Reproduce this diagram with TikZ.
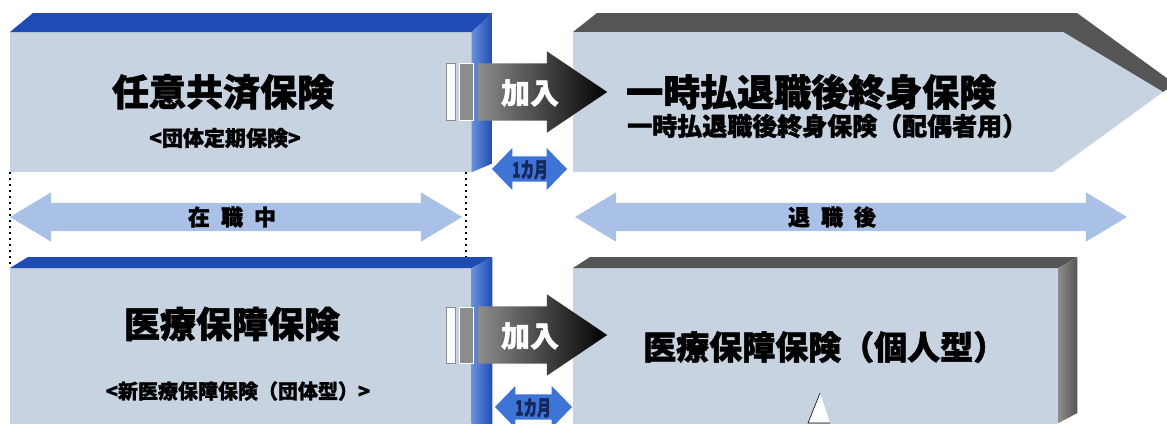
\documentclass[tikz,border=0pt]{standalone}
\usepackage{fontspec}
\newfontfamily\jp{Noto Sans CJK JP}[BoldFeatures={FakeBold=1.5}]
\newfontfamily\jpnarrow{Noto Sans CJK JP}[FakeStretch=0.65, BoldFeatures={FakeBold=1.5}]
\usepackage{tikz}
\usetikzlibrary{calc,shapes.arrows}
\definecolor{facecol}{HTML}{C7D3E1}
\definecolor{bluecol}{HTML}{1E4CB4}
\definecolor{lightbluecol}{HTML}{6A92DC}
\definecolor{graycol}{HTML}{555555}
\definecolor{lightgraycol}{HTML}{8C8C8C}
\definecolor{spancol}{HTML}{A9C1E7}
\definecolor{monthcol}{HTML}{3E74D5}
\definecolor{monthtext}{HTML}{15285C}
\tikzstyle{face} = [rectangle, fill=facecol, inner sep=0pt, anchor=north west]
\tikzstyle{title} = [inner sep=0pt, font=\jp\bfseries\fontsize{37}{40}\selectfont]
\tikzstyle{subtitle} = [inner sep=0pt, font=\jp\bfseries\fontsize{21}{24}\selectfont]
\tikzstyle{span} = [double arrow, fill=spancol, inner xsep=0pt, inner ysep=14pt, double arrow head extend=10.5pt, double arrow tip angle=62]
\tikzstyle{spanlabel} = [inner sep=0pt, font=\jp\bfseries\fontsize{22}{24}\selectfont]
\tikzstyle{joinarrow} = [single arrow, left color=lightgraycol, middle color=black!85, right color=black, inner xsep=0pt, inner ysep=28.5pt, minimum height=129pt, single arrow head extend=12pt, single arrow tip angle=68, anchor=tail]
\tikzstyle{joinlabel} = [inner sep=0pt, text=white, font=\jp\bfseries\fontsize{29}{30}\selectfont]
\tikzstyle{month} = [double arrow, fill=monthcol, inner xsep=0pt, inner ysep=12.5pt, double arrow head extend=8.5pt, double arrow tip angle=92]
\tikzstyle{monthlabel} = [inner sep=0pt, text=monthtext, font=\jpnarrow\bfseries\fontsize{21}{22}\selectfont]
\tikzstyle{slot} = [fill=white!90!facecol, draw=lightgraycol, line width=0.6pt]
\tikzstyle{slotdark} = [fill=lightgraycol, draw=white, line width=0.6pt]
\tikzstyle{border} = [line width=2pt, dash pattern=on 2pt off 4pt]

\begin{document}
\begin{tikzpicture}[x=1pt, y=-1pt]
        \useasboundingbox (0,0) rectangle (1167,423);
        \clip (0,0) rectangle (1167,423);
        % in service, before retiring
        \node (kyosai) [face, minimum width=461pt, minimum height=140pt] at (10,32) {};
        \node (iryo) [face, minimum width=461pt, minimum height=162pt] at (10,268) {};
        \draw [border] (kyosai.south west) -- (iryo.north west);
        \draw [border] ($(kyosai.south east)+(-5,0)$) -- ($(iryo.north east)+(-5,-10)$);
        \shade [left color=lightbluecol, right color=bluecol] (kyosai.north east) -- ++(21,-19) -- ($(kyosai.south east)+(21,-9)$) -- (kyosai.south east) -- cycle;
        \fill [bluecol] (kyosai.north west) -- ++(23,-19) -- ($(kyosai.north east)+(21,-19)$) -- (kyosai.north east) -- cycle;
        \shade [left color=lightbluecol, right color=bluecol] (iryo.north east) -- ++(21,-11) -- ($(iryo.south east)+(21,0)$) -- (iryo.south east) -- cycle;
        \fill [bluecol] (iryo.north west) -- ++(18,-11) -- ($(iryo.north east)+(21,-11)$) -- (iryo.north east) -- cycle;
        \node (kyosai-title) [title] at (223,92) {任意共済保険};
        \node (kyosai-sub) [subtitle] at (225,138) {<団体定期保険>};
        \node (iryo-title) [title, font=\jp\bfseries\fontsize{36}{40}\selectfont] at (232,324) {医療保障保険};
        \node (iryo-sub) [subtitle, font=\jp\bfseries\fontsize{20}{22}\selectfont] at (238,391) {<新医療保障保険（団体型）>};
        % after retiring
        \coordinate (ichiji-nw) at (573,32);
        \coordinate (ichiji-ne) at (1063,32);
        \coordinate (ichiji-tip) at (1163,92);
        \coordinate (ichiji-se) at (1053,172);
        \coordinate (ichiji-sw) at (573,172);
        \fill [graycol] (ichiji-nw) -- ++(24,-19) -- ($(ichiji-ne)+(14,-19)$) -- ($(ichiji-tip)+(12,-8)$) -- (ichiji-tip) -- (ichiji-ne) -- cycle;
        \fill [facecol] (ichiji-nw) -- (ichiji-ne) -- (ichiji-tip) -- (ichiji-se) -- (ichiji-sw) -- cycle;
        \node (kojin) [face, minimum width=485pt, minimum height=162pt] at (573,268) {};
        \fill [graycol] (kojin.north west) -- ++(17,-11) -- ($(kojin.north east)+(19,-11)$) -- (kojin.north east) -- cycle;
        \shade [left color=lightgraycol, right color=graycol] (kojin.north east) -- ++(19,-11) -- ++(0,156) -- ($(kojin.north east)+(0,155)$) -- cycle;
        \node (ichiji-title) [title, anchor=west] at (626,92) {一時払退職後終身保険};
        \node (ichiji-sub) [subtitle, anchor=west, font=\jp\bfseries\fontsize{25}{28}\selectfont] at (627,126) {一時払退職後終身保険（配偶者用）};
        \node (kojin-title) [title, anchor=west, font=\jp\bfseries\fontsize{33}{36}\selectfont] at (643,347) {医療保障保険（個人型）};
        \draw [fill=white, line width=0.6pt] (820,393) -- (808,423) -- (830,423);
        % periods
        \node (zaishoku) [span, minimum height=452pt] at (236,217) {};
        \node [spanlabel] at (232,217) {在\enspace 職\enspace 中};
        \node (taishoku) [span, minimum height=552pt] at (851,217) {};
        \node [spanlabel] at (832,217) {退\enspace 職\enspace 後};
        % joining within one month
        \filldraw [slot] (446,63) rectangle (455,120);
        \filldraw [slotdark] (459,63) rectangle (473,120);
        \node (kanyu1) [joinarrow] at (478,92) {};
        \node [joinlabel] at (530,93) {加入};
        \node (month1) [month, minimum height=75pt] at (529.5,169) {};
        \node [monthlabel] at (530,170) {1カ月};
        \filldraw [slot] (446,307) rectangle (455,363);
        \filldraw [slotdark] (459,307) rectangle (473,363);
        \node (kanyu2) [joinarrow] at (478,335) {};
        \node [joinlabel] at (530,336) {加入};
        \node (month2) [month, minimum height=77pt] at (533.5,407) {};
        \node [monthlabel] at (533,408) {1カ月};
    \end{tikzpicture}
\end{document}
